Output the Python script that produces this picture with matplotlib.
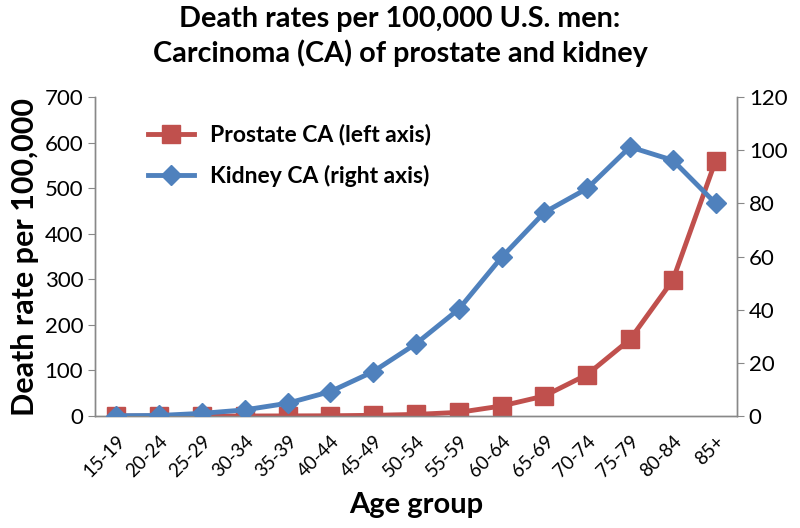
import matplotlib
matplotlib.use('Agg')
import matplotlib.pyplot as plt

plt.rcParams['font.family'] = ['Lato', 'DejaVu Sans']

ages = ["15-19", "20-24", "25-29", "30-34", "35-39", "40-44", "45-49", "50-54",
        "55-59", "60-64", "65-69", "70-74", "75-79", "80-84", "85+"]
prostate = [0, 0, 0, 0, 0.2, 0.5, 1.5, 3.5, 8, 22, 44, 91, 168, 298, 560]
kidney = [0.1, 0.2, 1.0, 2.3, 4.8, 9.2, 16.7, 27.2, 40.2, 59.7, 76.6, 85.6, 101.2, 96.2, 80.0]

red = "#C0504D"
blue = "#4F81BD"
gray = "#888888"

fig = plt.figure(figsize=(8, 5.28), dpi=100)
ax = fig.add_axes([0.11875, 0.2121, 0.8025, 0.6042])
ax2 = ax.twinx()

x = list(range(len(ages)))
lp, = ax.plot(x, prostate, color=red, lw=3.5, marker="s", ms=13, zorder=3,
              label="Prostate CA (left axis)")
lk, = ax2.plot(x, kidney, color=blue, lw=3.5, marker="D", ms=10, zorder=4,
               label="Kidney CA (right axis)")

ax.set_xlim(-0.5, len(ages) - 0.5)
ax.set_ylim(0, 700)
ax2.set_ylim(0, 120)
ax.set_yticks(range(0, 701, 100))
ax2.set_yticks(range(0, 121, 20))

ax.set_xticks(x)
ax.set_xticklabels(ages, rotation=45, ha="right", rotation_mode="anchor", fontsize=13.5)
ax.tick_params(axis="x", length=0, pad=12)
ax.tick_params(axis="y", labelsize=16, color=gray, length=5, direction="out")
ax2.tick_params(axis="y", labelsize=16, color=gray, length=5, direction="out")

for a in (ax, ax2):
    a.spines["top"].set_visible(False)
    for s in ("left", "right", "bottom"):
        a.spines[s].set_color(gray)
        a.spines[s].set_linewidth(1)

ax.set_ylabel("Death rate per 100,000", fontsize=22, fontweight="bold", labelpad=4)
ax.set_xlabel("Age group", fontsize=21, fontweight="bold", labelpad=8)

fig.text(0.5, 0.988, "Death rates per 100,000 U.S. men:\nCarcinoma (CA) of prostate and kidney",
         ha="center", va="top", fontsize=20.7, fontweight="bold", linespacing=1.32)

leg = ax.legend(handles=[lp, lk], loc="upper left", bbox_to_anchor=(0.05, 0.98),
                frameon=False, fontsize=16.5, handlelength=2.0, handletextpad=0.7,
                labelspacing=0.85)
for t in leg.get_texts():
    t.set_fontweight("bold")

fig.savefig("out.png", dpi=100)
